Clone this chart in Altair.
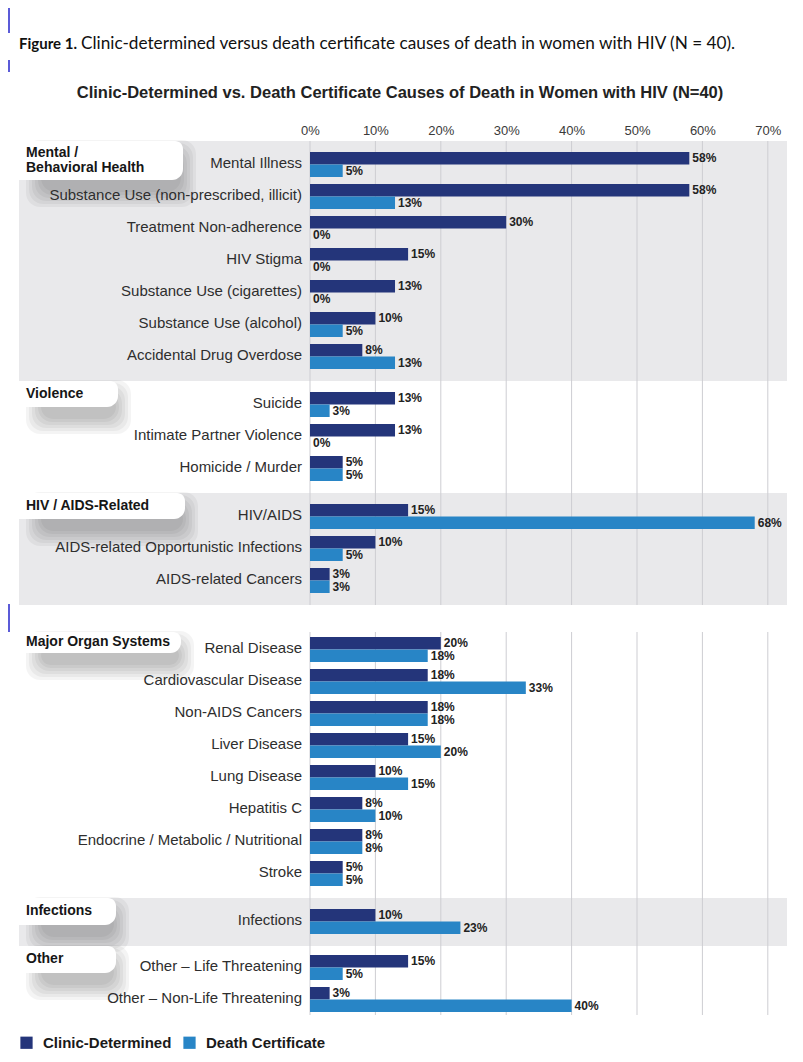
import altair as alt
import pandas as pd

# ---------------- data ----------------
SECTIONS = ["Mental /\nBehavioral Health", "Violence", "HIV / AIDS-Related",
            "Major Organ Systems", "Infections", "Other"]
SECTION_CATEGORIES = [
    ["Mental Illness", "Substance Use (non-prescribed, illicit)", "Treatment Non-adherence",
     "HIV Stigma", "Substance Use (cigarettes)", "Substance Use (alcohol)",
     "Accidental Drug Overdose"],
    ["Suicide", "Intimate Partner Violence", "Homicide / Murder"],
    ["HIV/AIDS", "AIDS-related Opportunistic Infections", "AIDS-related Cancers"],
    ["Renal Disease", "Cardiovascular Disease", "Non-AIDS Cancers", "Liver Disease",
     "Lung Disease", "Hepatitis C", "Endocrine / Metabolic / Nutritional", "Stroke"],
    ["Infections"],
    ["Other \u2013 Life Threatening", "Other \u2013 Non-Life Threatening"],
]
CLINIC = [58, 58, 30, 15, 13, 10, 8,
          13, 13, 5,
          15, 10, 3,
          20, 18, 18, 15, 10, 8, 8, 5,
          10,
          15, 3]
DEATH = [5, 13, 0, 0, 0, 5, 13,
         3, 0, 5,
         68, 5, 3,
         18, 33, 18, 20, 15, 10, 8, 5,
         23,
         5, 40]
SERIES = ["Clinic-Determined", "Death Certificate"]
TICKS = [0, 10, 20, 30, 40, 50, 60, 70]
GRAY_SECTIONS = [0, 2, 4]

# ---------------- style / layout ----------------
DARK = "#24357a"
LIGHT = "#2885c6"
BAND = "#e9e9eb"
GRID = "#cdcdd2"
FONT = "Liberation Sans"

W = 768                 # plot width (page x 19 .. 787)
X0_PX = 291             # pixel offset of 0 %
PX_PER = 6.54           # pixels per percent
PITCH, BAR = 32, 12.5
PAD_TOP = [11, 11, 11, 5, 11, 9]
PAD_BOTTOM = 12
LAST_PAD = 3
BREAK_BEFORE = {3: 27}
TAB_W = [164, 99, 166, 162, 97, 97]
TAB_H = [39, 26, 26, 21, 27, 27]
SHADOW_GROW = [0, 3, 6, 9, 12, 15]

x_min = -X0_PX / PX_PER
x_max = (W - X0_PX) / PX_PER


def px_to_x(px):
    return x_min + px / PX_PER


# compute layout
rows, bars, secs, shadows = [], [], [], []
cursor = 0.0
k = 0
for s, (name, cats) in enumerate(zip(SECTIONS, SECTION_CATEGORIES)):
    cursor += BREAK_BEFORE.get(s, 0)
    start = cursor
    top = start + PAD_TOP[s]
    for i, cat in enumerate(cats):
        rt = top + i * PITCH
        rows.append({"label": cat, "yc": rt + BAR, "zero": 0})
        for j, (ser, vals) in enumerate(zip(SERIES, [CLINIC, DEATH])):
            v = vals[k]
            bars.append({"series": ser, "value": v, "zero": 0,
                         "y0": rt + j * BAR, "y1": rt + (j + 1) * BAR,
                         "ym": rt + (j + 0.5) * BAR, "txt": f"{v}%"})
        k += 1
    last_top = top + (len(cats) - 1) * PITCH
    end = last_top + 2 * BAR + (LAST_PAD if s == len(SECTIONS) - 1 else PAD_BOTTOM)
    n_lines = name.count("\n") + 1
    secs.append({"name": name, "start": start, "end": end,
                 "gray": s in GRAY_SECTIONS,
                 "tx0": px_to_x(0), "tx1": px_to_x(TAB_W[s]), "full": x_max,
                 "ty1": start + TAB_H[s],
                 "tyc": start + TAB_H[s] / 2 - 0.5 - (n_lines - 1) * 7.5,
                 "lx": px_to_x(7)})
    for g in SHADOW_GROW:
        shadows.append({"x0": px_to_x(22 - g), "x1": px_to_x(TAB_W[s] - 2 + g),
                        "y0": start + 14 - g, "y1": start + TAB_H[s] + 12 + g})
    cursor = end
H = cursor

rows_df = pd.DataFrame(rows)
bars_df = pd.DataFrame(bars)
secs_df = pd.DataFrame(secs)
shadow_df = pd.DataFrame(shadows)

blocks = [(0, secs[2]["end"]), (secs[3]["start"], H)]
grid_df = pd.DataFrame([{"tick": t, "b0": b0, "b1": b1} for (b0, b1) in blocks for t in TICKS])

X_SCALE = alt.Scale(domain=[x_min, x_max], nice=False, zero=False)
Y_SCALE = alt.Scale(domain=[0, H], reverse=True, nice=False, zero=False)
X_AXIS = alt.Axis(orient="top", values=TICKS, labelExpr="datum.value + '%'", domain=False,
                  ticks=False, grid=False, labelFontSize=13, labelColor="#3a3a3a",
                  labelFont=FONT, labelPadding=4, title=None)


def X(field):
    return alt.X(field, type="quantitative", scale=X_SCALE, axis=X_AXIS)


def Y(field):
    return alt.Y(field, type="quantitative", scale=Y_SCALE, axis=None)


bands = alt.Chart(secs_df).transform_filter("datum.gray").mark_rect(color=BAND).encode(
    x=X("tx0"), x2=alt.X2("full"), y=Y("start"), y2=alt.Y2("end"))

grid = alt.Chart(grid_df).mark_rule(color=GRID, strokeWidth=1).encode(
    x=X("tick"), y=Y("b0"), y2=alt.Y2("b1"))

shadow = alt.Chart(shadow_df).mark_rect(color="black", opacity=0.045, cornerRadius=14).encode(
    x=X("x0"), x2=alt.X2("x1"), y=Y("y0"), y2=alt.Y2("y1"))

tabs = alt.Chart(secs_df).mark_rect(color="white", cornerRadiusTopRight=8,
                                    cornerRadiusBottomRight=11).encode(
    x=X("tx0"), x2=alt.X2("tx1"), y=Y("start"), y2=alt.Y2("ty1"))

tab_text = alt.Chart(secs_df).mark_text(
    align="left", baseline="middle", font=FONT, fontSize=14, fontWeight="bold",
    color="#161616", lineBreak="\n", lineHeight=15
).encode(x=X("lx"), y=Y("tyc"), text="name:N")

cat_text = alt.Chart(rows_df).mark_text(
    align="right", baseline="middle", font=FONT, fontSize=15, color="#2e2e2e", dx=-8, dy=-2
).encode(x=X("zero"), y=Y("yc"), text="label:N")

bar_layer = alt.Chart(bars_df).mark_rect().encode(
    x=X("value"), x2=alt.X2("zero"), y=Y("y0"), y2=alt.Y2("y1"),
    color=alt.Color("series:N", scale=alt.Scale(domain=SERIES, range=[DARK, LIGHT]),
                    legend=alt.Legend(orient="none", legendX=0, legendY=H + 20,
                                      direction="horizontal", title=None,
                                      symbolType="square", symbolSize=150,
                                      symbolStrokeWidth=0, symbolOpacity=1,
                                      labelFont=FONT, labelFontSize=15,
                                      labelFontWeight="bold", labelColor="#1a1a1a",
                                      labelOffset=9, columnPadding=10, padding=0))
)

val_text = alt.Chart(bars_df).mark_text(
    align="left", baseline="middle", font=FONT, fontSize=12, fontWeight="bold",
    color="#222222", dx=3
).encode(x=X("value"), y=Y("ym"), text="txt:N")

# caption, title and margin marks (page furniture)
caption_bold = alt.Chart(pd.DataFrame({"t": ["Figure 1."]})).mark_text(
    align="left", baseline="middle", font="Lato", fontSize=15, fontWeight="bold", color="#111"
).encode(x=alt.value(0), y=alt.value(-97), text="t:N")
caption = alt.Chart(pd.DataFrame(
    {"t": ["Clinic-determined versus death certificate causes of death in women with HIV (N = 40)."]}
)).mark_text(align="left", baseline="middle", font="Lato", fontSize=17.2, color="#111").encode(
    x=alt.value(62), y=alt.value(-97), text="t:N")
title = alt.Chart(pd.DataFrame(
    {"t": ["Clinic-Determined vs. Death Certificate Causes of Death in Women with HIV (N=40)"]}
)).mark_text(align="center", baseline="middle", font=FONT, fontSize=16.5, fontWeight="bold",
             color="#222").encode(x=alt.value(381), y=alt.value(-48), text="t:N")

MARK_TOP = [-133, -81, 463, 912]
MARK_BOTTOM = [-108, -69, 491, 925]
mark_df = pd.DataFrame({"a": MARK_TOP, "b": MARK_BOTTOM})
margin_marks = alt.Chart(mark_df).mark_rule(color="#5b5bd8", strokeWidth=2).encode(
    x=alt.value(-10), y=Y("a"), y2=alt.Y2("b"))

chart = alt.layer(
    bands, grid, shadow, tabs, tab_text, cat_text, bar_layer, val_text,
    caption_bold, caption, title, margin_marks
).properties(
    width=W, height=H,
    padding={"left": 11, "top": 133, "right": 8, "bottom": 36},
    autosize=alt.AutoSizeParams(type="none"),
).configure_view(stroke=None)

chart.save("out.html", embed_options={"renderer": "svg", "actions": False})
